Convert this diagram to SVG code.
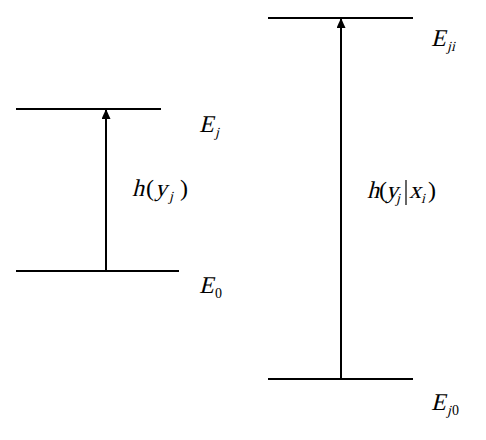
<svg xmlns="http://www.w3.org/2000/svg" width="486" height="440" viewBox="0 0 486 440">
<style>
.lvl{stroke:#000;stroke-width:2;fill:none}
.arr{stroke:#000;stroke-width:2;fill:none;marker-end:url(#ah)}
text{fill:#000;font-family:'Liberation Serif','Times New Roman',serif}
.m{font-size:24px}
.s{font-size:14px}
</style>
<defs>
<marker id="ah" markerWidth="10" markerHeight="9" refX="9" refY="4.5" orient="auto" markerUnits="userSpaceOnUse" viewBox="0 0 10 9">
<path d="M0,0 L10,4.5 L0,9 Z" fill="#000"/>
</marker>
</defs>
<rect width="486" height="440" fill="#fff"/>
<g id="connectors">
<line class="arr" x1="106" y1="271" x2="106" y2="110"/>
<line class="arr" x1="341" y1="379" x2="341" y2="19"/>
</g>
<g id="left-upper"><line class="lvl" x1="16" y1="109" x2="161" y2="109"/></g>
<g id="left-lower"><line class="lvl" x1="16" y1="271" x2="179" y2="271"/></g>
<g id="right-upper"><line class="lvl" x1="268" y1="18" x2="413" y2="18"/></g>
<g id="right-lower"><line class="lvl" x1="268" y1="379" x2="413" y2="379"/></g>
<g id="label-Ej"><text class="m" transform="translate(199,132) skewX(-14)">E</text><text class="s" transform="translate(215,137) skewX(-14)">j</text></g>
<g id="label-E0"><text class="m" transform="translate(199,293) skewX(-14)">E</text><text class="s" x="215" y="298">0</text></g>
<g id="label-Eji"><text class="m" transform="translate(431,46) skewX(-14)">E</text><text class="s" transform="translate(447,51) skewX(-14)">ji</text></g>
<g id="label-Ej0"><text class="m" transform="translate(431,410) skewX(-14)">E</text><text class="s" transform="translate(447,415) skewX(-14)">j</text><text class="s" x="452" y="415">0</text></g>
<g id="label-hyj"><text class="m" transform="translate(132,196) skewX(-14)">h</text><text class="m" x="146" y="196">(</text><text class="m" transform="translate(155,196) skewX(-14)">y</text><text class="s" transform="translate(169,201) skewX(-14)">j</text><text class="m" x="180" y="196">)</text></g>
<g id="label-hyjxi"><text class="m" transform="translate(367,198) skewX(-14)">h</text><text class="m" x="379" y="198">(</text><text class="m" transform="translate(386,198) skewX(-14)">y</text><text class="s" transform="translate(396,203) skewX(-14)">j</text><line x1="406" y1="180" x2="406" y2="205" stroke="#000" stroke-width="1.2"/><text class="m" transform="translate(409,198) skewX(-14)">x</text><text class="s" transform="translate(421,203) skewX(-14)">i</text><text class="m" x="428" y="198">)</text></g>
</svg>
